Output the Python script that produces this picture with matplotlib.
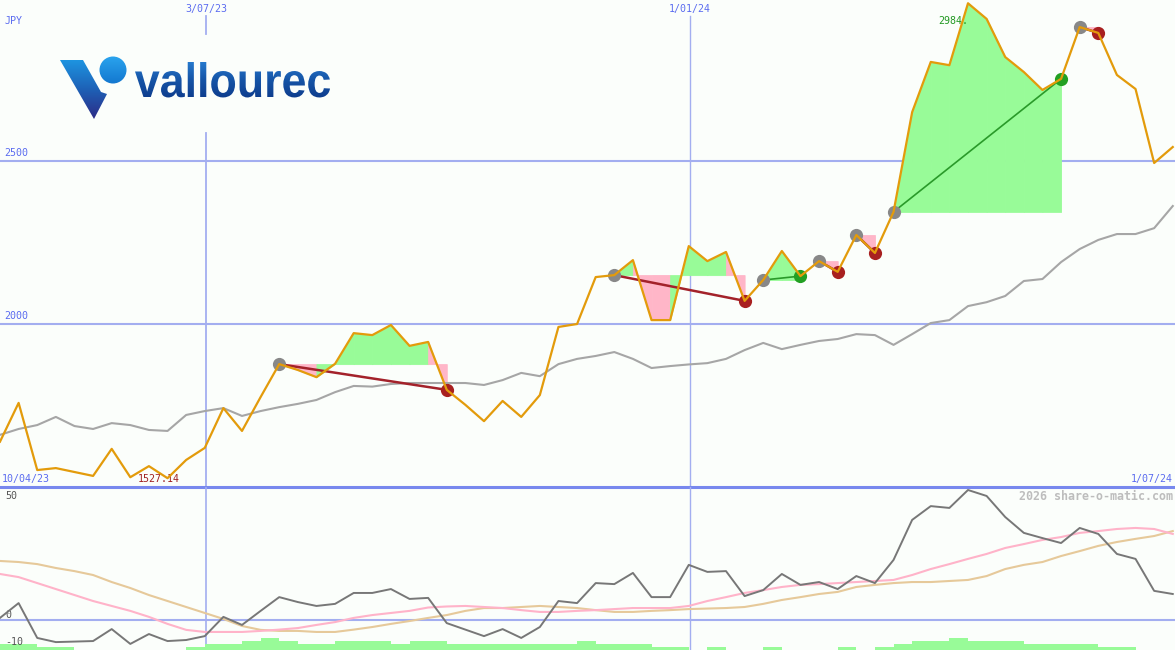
import numpy as np
import matplotlib.pyplot as plt
from matplotlib.patches import Polygon, Circle, PathPatch
from matplotlib.textpath import TextPath
from matplotlib.font_manager import FontProperties
from matplotlib.transforms import Affine2D, blended_transform_factory
from matplotlib.colors import LinearSegmentedColormap

# weekly closes (JPY), 64 weeks
price = [1639, 1758, 1552, 1558, 1546, 1534, 1617, 1530, 1564, 1527,
         1583, 1620, 1742, 1672, 1776, 1877, 1859, 1837, 1878, 1972,
         1966, 1997, 1933, 1945, 1798, 1752, 1702, 1764, 1715, 1782,
         1991, 2000, 2144, 2150, 2196, 2012, 2012, 2239, 2193, 2221,
         2071, 2135, 2224, 2147, 2193, 2160, 2273, 2218, 2344, 2650,
         2804, 2794, 2984, 2936, 2819, 2773, 2718, 2752, 2911, 2893,
         2764, 2721, 2494, 2543]

# moving average (grey)
avg = [1660, 1678, 1690, 1715, 1687, 1678, 1696, 1690, 1675, 1672,
       1721, 1733, 1742, 1718, 1733, 1745, 1755, 1767, 1791, 1810,
       1808, 1816, 1819, 1819, 1819, 1819, 1813, 1828, 1850, 1840,
       1877, 1893, 1902, 1914, 1893, 1865, 1871, 1876, 1880, 1893,
       1920, 1942, 1923, 1936, 1948, 1954, 1969, 1966, 1936, 1969,
       2003, 2012, 2055, 2067, 2086, 2132, 2138, 2190, 2230, 2258,
       2276, 2276, 2294, 2362]

# lower panel oscillator and its two averages
osc = [0.8, 6.5, -6.9, -8.5, -8.3, -8.1, -3.5, -9.2, -5.4, -8.1,
       -7.7, -6.2, 1.2, -1.9, 3.5, 8.8, 6.9, 5.4, 6.2, 10.4,
       10.4, 11.9, 8.1, 8.5, -1.2, -3.7, -6.2, -3.5, -6.9, -2.7,
       7.3, 6.5, 14.2, 13.8, 18.1, 8.8, 8.8, 21.2, 18.5, 18.8,
       9.2, 11.5, 17.7, 13.5, 14.6, 11.9, 16.9, 14.2, 23.1, 38.5,
       43.8, 43.1, 50.0, 47.7, 39.6, 33.5, 31.5, 29.6, 35.4, 33.1,
       25.4, 23.5, 11.2, 10.0]
osc_fast = [17.7, 16.5, 14.2, 11.9, 9.6, 7.3, 5.4, 3.5, 1.2, -1.5,
            -3.8, -4.6, -4.6, -4.6, -4.2, -3.7, -3.1, -1.9, -0.8, 0.8,
            1.9, 2.7, 3.5, 4.8, 5.2, 5.4, 5.0, 4.6, 3.8, 3.1,
            3.1, 3.5, 3.8, 4.2, 4.6, 4.6, 4.6, 5.4, 7.3, 8.8,
            10.4, 11.5, 12.7, 13.5, 13.8, 14.2, 14.6, 15.0, 15.4, 17.3,
            19.6, 21.5, 23.5, 25.4, 27.7, 29.2, 30.8, 31.9, 33.5, 34.2,
            35.0, 35.4, 35.0, 33.1]
osc_slow = [22.7, 22.3, 21.5, 20.0, 18.8, 17.3, 14.6, 12.3, 9.6, 7.3,
            5.0, 2.7, 0.4, -2.3, -3.8, -4.2, -4.2, -4.6, -4.6, -3.7,
            -2.7, -1.5, -0.4, 0.8, 1.9, 3.5, 4.6, 4.6, 5.0, 5.4,
            5.0, 4.6, 3.8, 3.1, 3.1, 3.5, 3.8, 4.2, 4.4, 4.6,
            5.0, 6.2, 7.7, 8.8, 10.0, 10.8, 12.7, 13.5, 14.2, 14.6,
            14.6, 15.0, 15.4, 16.9, 19.6, 21.2, 22.3, 24.6, 26.5, 28.5,
            30.0, 31.2, 32.3, 34.2]
vol_level = [2, 2, 1, 1, 0, 0, 0, 0, 0, 0, 1, 2, 2, 3, 4, 3, 2, 2, 3, 3,
             3, 2, 3, 3, 2, 2, 2, 2, 2, 2, 2, 3, 2, 2, 2, 1, 1, 0, 1, 0,
             0, 1, 0, 0, 0, 1, 0, 1, 2, 3, 3, 4, 3, 3, 3, 2, 2, 2, 2, 1,
             1, 0, 0, 0]

# trades: (entry week, exit week)
trades = [(15, 24), (33, 40), (41, 43), (44, 45), (46, 47), (48, 57), (58, 59)]

date_lines = [(11.07, '3/07/23'), (37.07, '1/01/24')]
price_levels = [2500, 2000]

BG = '#fbfefb'
BLUE = '#a3aef0'
TXT = '#5b6cf0'
GREEN_F = '#98fb98'
PINK_F = '#ffb6c8'
MONO = 'DejaVu Sans Mono'

x = np.arange(len(price))

fig = plt.figure(figsize=(11.75, 6.5), dpi=100)
fig.patch.set_facecolor(BG)
ax = fig.add_axes([0, 163 / 650, 1, 487 / 650])
ax2 = fig.add_axes([0, 0, 1, 163 / 650])
for a in (ax, ax2):
    a.set_axis_off()
ax.set_xlim(0, 63.12)
ax.set_ylim(1500, 2994)
ax2.set_xlim(0, 63.12)
ax2.set_ylim(-11.54, 51.15)
bt = blended_transform_factory(ax.transData, ax.transAxes)

# grid lines
for lv in price_levels:
    ax.axhline(lv, color=BLUE, lw=1.5, zorder=0.5)
    ax.text(0.25, lv + 8, str(lv), color=TXT, fontsize=7.2, family=MONO,
            va='bottom', ha='left')
ax.axvline(date_lines[0][0], ymin=0, ymax=0.727, color=BLUE, lw=1.3, zorder=0.5)
ax.axvline(date_lines[0][0], ymin=0.930, ymax=0.967, color=BLUE, lw=1.3, zorder=0.5)
ax.axvline(date_lines[1][0], ymin=0, ymax=0.967, color=BLUE, lw=1.0, zorder=0.5)
for xd, lab in date_lines:
    ax2.axvline(xd, color=BLUE, lw=1.2 if xd < 20 else 1.0, zorder=0.5)
    ax.text(xd, 0.992, lab, transform=bt, color=TXT, fontsize=7.2, family=MONO,
            ha='center', va='top')

# trade fills, lines and dots
p = np.array(price, dtype=float)
for ent, ext in trades:
    lvl = p[ent]
    for k in range(ent, ext):
        col = GREEN_F if p[k + 1] >= lvl else PINK_F
        ax.fill_between(x[k:k + 2], p[k:k + 2], lvl, facecolor=col, edgecolor=col,
                        lw=0.6, zorder=1)
    win = p[ext] > lvl
    ax.plot([ent, ext], [p[ent], p[ext]], color='#2a9a2a' if win else '#a3222a',
            lw=1.2 if win else 1.8, zorder=3)
    ax.plot(ent, p[ent], 'o', color='#888888', ms=9.5, mec='none', zorder=4)
    ax.plot(ext, p[ext], 'o', color='#22a022' if win else '#a82020', ms=9.5, mec='none', zorder=4)

ax.plot(x, avg, color='#a6a6a6', lw=1.5, zorder=2)
ax.plot(x, price, color='#e39b0b', lw=1.6, zorder=5)

# price-panel labels
ax.text(0.25, 0.957, 'JPY', transform=bt, color=TXT, fontsize=7.2,
        family=MONO, va='center', ha='left')
ax.text(0.1, 0.016, '10/04/23', transform=bt, color=TXT, fontsize=7.2, family=MONO,
        va='center')
ax.text(63.0, 0.016, '1/07/24', transform=bt, color=TXT, fontsize=7.2, family=MONO,
        va='center', ha='right')
lo = int(np.argmin(p))
ax.text(lo - 0.45, 0.016, '1527.14', transform=bt, color='#a02020', fontsize=7.2,
        family=MONO, va='center', ha='center')
hi = int(np.argmax(p))
ax.text(hi, 0.957, '2984.', transform=bt, color='#229922', fontsize=7.2,
        family=MONO, va='center', ha='right')

# panel separator
ax.axhline(1500, color='#7888ee', lw=2.2, zorder=6, clip_on=False)

# lower panel
ax2.bar(x, np.array(vol_level) * 1.154, width=1.0, align='edge', bottom=-11.54,
        color=GREEN_F, lw=0, zorder=1)
ax2.axhline(0, color=BLUE, lw=1.5, zorder=0.5)
ax2.plot(x, osc_slow, color='#e6c99a', lw=1.5, zorder=2)
ax2.plot(x, osc_fast, color='#ffb3c9', lw=1.5, zorder=3)
ax2.plot(x, osc, color='#777777', lw=1.4, zorder=4)
for val, lab in [(47.5, '50'), (1.8, '0'), (-8.6, '-10')]:
    ax2.text(0.3, val, lab, color='#555555', fontsize=7.2, family=MONO, va='center')
ax2.text(63.0, 47.5, '2026 share-o-matic.com', color='#bdbdbd', fontsize=8.4,
         family=MONO, weight='bold', va='center', ha='right')

# logo overlay in pixel coordinates
ov = fig.add_axes([0, 0, 1, 1])
ov.axis('off')
ov.patch.set_alpha(0)
grad = np.linspace(0, 1, 128).reshape(-1, 1)

v_shape = Polygon([(60, 60), (83, 60), (101, 92), (107, 94), (94, 119)], closed=True,
                  fc='none', ec='none', transform=ov.transData)
ball = Circle((113, 70), 13.5, fc='none', ec='none', transform=ov.transData)
ov.add_patch(v_shape)
ov.add_patch(ball)
cm_v = LinearSegmentedColormap.from_list('v', ['#1e9be6', '#1d63b8', '#2d2a85'])
im = ov.imshow(grad, cmap=cm_v, extent=(55, 112, 120, 56), aspect='auto', origin='upper')
im.set_clip_path(v_shape)
cm_b = LinearSegmentedColormap.from_list('b', ['#2aa4ee', '#1377cf'])
im = ov.imshow(grad, cmap=cm_b, extent=(98, 128, 84, 56), aspect='auto', origin='upper')
im.set_clip_path(ball)

fp = FontProperties(family='Liberation Sans', weight='bold')
tp = TextPath((0, 0), 'vallourec', size=100, prop=fp)
bb = tp.get_extents()
sx = 195 / bb.width
sy = 35 / bb.y1
tpath = Affine2D().translate(-bb.x0, 0).scale(sx, -sy).translate(135, 97).transform_path(tp)
word = PathPatch(tpath, fc='none', ec='none', transform=ov.transData)
ov.add_patch(word)
cm_t = LinearSegmentedColormap.from_list('t', ['#2a82d6', '#1656a8', '#0d3a8a'])
im = ov.imshow(grad, cmap=cm_t, extent=(130, 335, 100, 58), aspect='auto', origin='upper')
im.set_clip_path(word)

ov.set_xlim(0, 1175)
ov.set_ylim(650, 0)

fig.savefig('out.png', dpi=100, facecolor=BG)
